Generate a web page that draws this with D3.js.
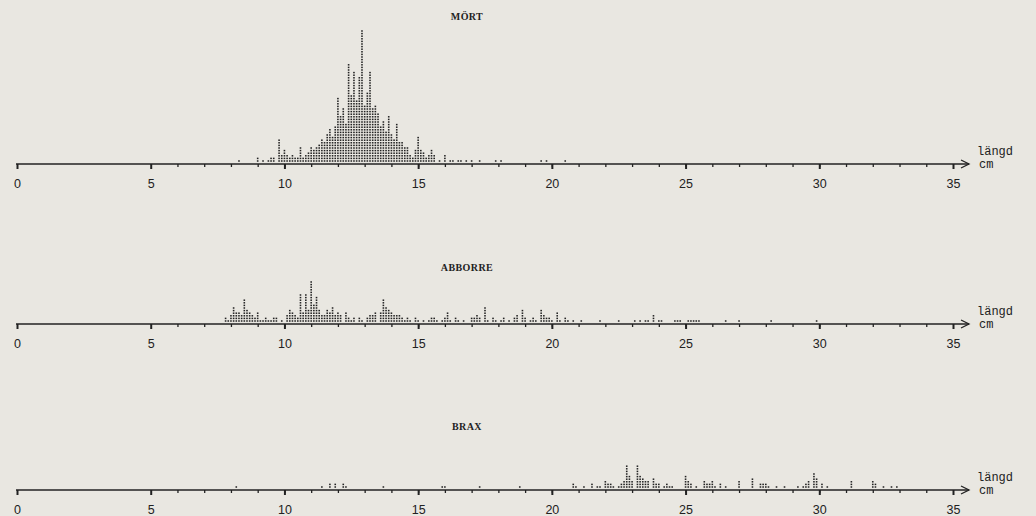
<!DOCTYPE html>
<html>
<head>
<meta charset="utf-8">
<script src="https://cdn.jsdelivr.net/npm/d3@7"></script>
<style>
  body { margin: 0; background: #e9e7e1; }
</style>
</head>
<body>
<script>
// lengths in cm (1 mm classes) and number of fish in each class
const mortLen = [8.3, 9.0, 9.2, 9.4, 9.5, 9.6, 9.8, 9.9, 10.0, 10.1, 10.2, 10.3, 10.4, 10.5, 10.6, 10.7, 10.8, 10.9,
  11.0, 11.1, 11.2, 11.3, 11.4, 11.5, 11.6, 11.7, 11.8, 11.9, 12.0, 12.1, 12.2, 12.3, 12.4, 12.5, 12.6, 12.7, 12.8, 12.9,
  13.0, 13.1, 13.2, 13.3, 13.4, 13.5, 13.6, 13.7, 13.8, 13.9, 14.0, 14.1, 14.2, 14.3, 14.4, 14.5, 14.6, 14.7, 14.8, 14.9,
  15.0, 15.1, 15.2, 15.3, 15.4, 15.5, 15.6, 15.8, 16.0, 16.2, 16.3, 16.5, 16.6, 16.8, 17.0, 17.3, 17.9, 18.1, 19.6, 19.8, 20.5];
const mortCount = [1, 2, 1, 1, 2, 2, 9, 3, 5, 3, 2, 3, 2, 2, 6, 2, 3, 4,
  6, 5, 6, 7, 9, 8, 11, 13, 10, 14, 25, 18, 21, 15, 38, 26, 35, 24, 33, 51,
  22, 27, 35, 21, 22, 19, 14, 16, 12, 18, 11, 9, 15, 8, 8, 6, 6, 3, 2, 5,
  10, 5, 4, 2, 3, 5, 3, 1, 3, 1, 1, 1, 1, 1, 1, 1, 1, 1, 1, 1, 1];

const abborreLen = [7.8, 7.9, 8.0, 8.1, 8.2, 8.3, 8.4, 8.5, 8.6, 8.7, 8.8, 8.9, 9.0, 9.1, 9.2, 9.3, 9.4, 9.5, 9.6, 9.7, 9.9,
  10.1, 10.2, 10.3, 10.4, 10.5, 10.6, 10.7, 10.8, 10.9, 11.0, 11.1, 11.2, 11.3, 11.4, 11.5, 11.6, 11.7, 11.8, 11.9,
  12.0, 12.1, 12.3, 12.4, 12.5, 12.6, 12.8, 12.9, 13.1, 13.2, 13.3, 13.4, 13.6, 13.7, 13.8, 13.9,
  14.0, 14.1, 14.2, 14.3, 14.4, 14.5, 14.6, 14.7, 14.9, 15.0, 15.2, 15.4, 15.5, 15.6, 15.7, 15.9,
  16.0, 16.1, 16.2, 16.4, 16.5, 16.7, 17.0, 17.1, 17.2, 17.3, 17.5, 17.6, 17.8, 17.9,
  18.1, 18.2, 18.4, 18.6, 18.7, 18.9, 19.0, 19.2, 19.3, 19.4, 19.6, 19.7, 19.8, 19.9,
  20.0, 20.2, 20.3, 20.5, 20.6, 20.8, 21.1, 21.8, 22.5, 23.1, 23.3, 23.5, 23.6, 23.8,
  24.0, 24.1, 24.6, 24.7, 24.8, 25.1, 25.2, 25.3, 25.4, 25.5, 26.5, 27.0, 28.2, 29.9];
const abborreCount = [2, 1, 3, 6, 4, 4, 3, 9, 5, 4, 3, 2, 4, 1, 1, 2, 1, 1, 2, 2, 1,
  3, 5, 4, 3, 2, 11, 4, 11, 5, 16, 7, 10, 5, 3, 3, 5, 4, 6, 3,
  4, 3, 4, 2, 1, 2, 2, 1, 2, 3, 3, 4, 4, 9, 6, 5,
  4, 3, 3, 3, 2, 1, 2, 1, 2, 1, 1, 1, 2, 2, 1, 1,
  2, 4, 1, 2, 1, 1, 2, 2, 3, 2, 6, 1, 2, 1,
  1, 2, 1, 2, 3, 5, 2, 1, 2, 1, 5, 3, 2, 2,
  1, 4, 1, 2, 1, 1, 1, 1, 1, 1, 1, 1, 1, 3,
  1, 1, 1, 1, 1, 1, 1, 1, 1, 1, 1, 1, 1, 1];

const braxLen = [8.2, 11.4, 11.7, 11.9, 12.2, 12.3, 13.7, 15.9, 16.0, 17.3, 18.8,
  20.8, 20.9, 21.2, 21.5, 21.7, 21.8, 22.0, 22.1, 22.2, 22.3, 22.5, 22.6, 22.7, 22.8, 22.9,
  23.0, 23.2, 23.3, 23.4, 23.5, 23.6, 23.8, 23.9, 24.0, 24.2, 24.3, 24.4, 24.5,
  25.0, 25.1, 25.2, 25.4, 25.7, 25.8, 25.9, 26.0, 26.1, 26.3, 26.5, 27.0, 27.5, 27.8, 27.9,
  28.0, 28.1, 28.4, 28.7, 29.2, 29.4, 29.5, 29.6, 29.8, 29.9, 30.1, 30.3, 31.2, 32.0, 32.1, 32.4, 32.7, 32.9];
const braxCount = [1, 1, 2, 2, 2, 1, 1, 1, 1, 1, 1,
  2, 1, 1, 2, 1, 1, 3, 2, 2, 1, 1, 2, 3, 9, 5,
  3, 9, 5, 4, 3, 3, 4, 2, 2, 1, 2, 1, 1,
  5, 3, 2, 1, 3, 2, 2, 3, 1, 2, 1, 3, 4, 2, 2,
  2, 1, 1, 1, 1, 1, 2, 3, 6, 4, 2, 1, 3, 3, 2, 1, 1, 1];

const titles = ['MÖRT', 'ABBORRE', 'BRAX'];
const majorTicks = [0, 5, 10, 15, 20, 25, 30, 35];
const minorTicks = d3.range(6, 35);

const width = 1036, height = 516;
const ink = '#222222';

const svg = d3.select('body').append('svg')
  .attr('width', width)
  .attr('height', height);

svg.append('rect')
  .attr('width', width).attr('height', height)
  .attr('fill', '#e9e7e1');

const x = d3.scaleLinear().domain([0, 35]).range([17, 953]);
// stack position of each dot above the axis
const y = d3.scaleLinear().domain([0, 50]).range([-3, -133]);

const panels = [
  { title: titles[0], len: mortLen, count: mortCount, axisY: 164, titleY: 20 },
  { title: titles[1], len: abborreLen, count: abborreCount, axisY: 324, titleY: 271 },
  { title: titles[2], len: braxLen, count: braxCount, axisY: 490, titleY: 430 }
];

panels.forEach(p => {
  const g = svg.append('g').attr('transform', 'translate(0,' + p.axisY + ')');

  svg.append('text')
    .attr('x', 467)
    .attr('y', p.titleY)
    .attr('text-anchor', 'middle')
    .attr('font-family', 'Liberation Serif, serif')
    .attr('font-weight', 'bold')
    .attr('font-size', 10)
    .attr('letter-spacing', 0.4)
    .attr('fill', ink)
    .text(p.title);

  // minor ticks, every cm from 6 to 34
  const minor = g.append('g')
    .call(d3.axisBottom(x).tickValues(minorTicks).tickSize(3).tickFormat(''));
  minor.select('.domain').remove();
  minor.selectAll('line').attr('stroke', ink).attr('stroke-width', 1.3);

  const major = g.append('g')
    .call(d3.axisBottom(x).tickValues(majorTicks).tickSize(5).tickPadding(10).tickFormat(d3.format('d')));
  major.select('.domain').remove();
  major.selectAll('line').attr('stroke', ink).attr('stroke-width', 2);
  major.selectAll('text')
    .attr('font-family', 'Liberation Sans, Arial, sans-serif')
    .attr('font-size', 12.5)
    .attr('fill', ink);

  // axis line with open arrow
  g.append('line')
    .attr('x1', x(0) - 1).attr('x2', 969)
    .attr('y1', 0).attr('y2', 0)
    .attr('stroke', ink).attr('stroke-width', 1.5);
  g.append('path')
    .attr('d', 'M961,-4L969,0L961,4')
    .attr('fill', 'none')
    .attr('stroke', ink).attr('stroke-width', 1.3);

  g.append('text')
    .attr('x', 977).attr('y', -9)
    .attr('font-family', 'Liberation Mono, monospace')
    .attr('font-size', 12)
    .attr('fill', ink)
    .text('längd');
  g.append('text')
    .attr('x', 979).attr('y', 4)
    .attr('font-family', 'Liberation Mono, monospace')
    .attr('font-size', 12)
    .attr('fill', ink)
    .text('cm');

  // one dot per fish, stacked in its length class
  const dots = p.len.flatMap((l, j) => d3.range(p.count[j]).map(i => ({ l: l, i: i })));
  g.append('g')
    .selectAll('rect')
    .data(dots)
    .enter()
    .append('rect')
    .attr('x', d => x(d.l) - 0.8)
    .attr('y', d => y(d.i) - 0.75)
    .attr('width', 1.6)
    .attr('height', 1.5)
    .attr('fill', ink);
});
</script>
</body>
</html>
